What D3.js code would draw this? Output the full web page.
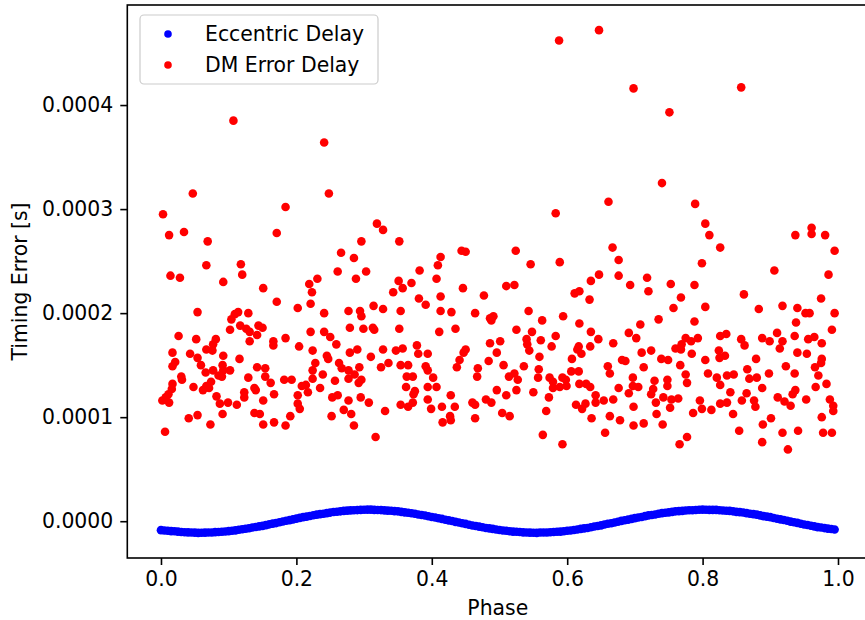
<!DOCTYPE html>
<html>
<head>
<meta charset="utf-8">
<script src="https://cdn.jsdelivr.net/npm/d3@7"></script>
<style>
  html, body { margin: 0; padding: 0; background: #fff; }
  svg { display: block; font-family: "DejaVu Sans", sans-serif; }
</style>
</head>
<body>
<svg id="chart" width="865" height="620"></svg>
<script>
// Tick positions
const phaseTicks = [0.0, 0.2, 0.4, 0.6, 0.8, 1.0];
const delayTicks = [0.0000, 0.0001, 0.0002, 0.0003, 0.0004];

// Eccentric delay: [orbital phase, delay in microseconds]
const eccentricDelay = [
  [0.000,-8.6],[0.005,-8.9],[0.010,-9.1],[0.015,-9.5],[0.020,-9.7],[0.025,-10.0],[0.030,-10.4],[0.035,-10.6],
  [0.040,-10.7],[0.045,-10.8],[0.050,-11.0],[0.055,-11.2],[0.060,-11.1],[0.065,-11.0],[0.070,-10.9],[0.075,-10.8],
  [0.080,-10.5],[0.085,-10.3],[0.090,-10.2],[0.095,-9.9],[0.100,-9.5],[0.105,-9.1],[0.110,-8.8],[0.115,-8.2],
  [0.120,-7.7],[0.125,-7.3],[0.130,-6.8],[0.135,-6.1],[0.140,-5.5],[0.145,-5.0],[0.150,-4.5],[0.155,-3.8],
  [0.160,-3.0],[0.165,-2.3],[0.170,-1.8],[0.175,-1.0],[0.180,-0.3],[0.185,0.4],[0.190,1.0],[0.195,1.8],
  [0.200,2.5],[0.205,3.2],[0.210,3.9],[0.215,4.4],[0.220,5.0],[0.225,5.7],[0.230,6.3],[0.235,6.8],
  [0.240,7.2],[0.245,7.8],[0.250,8.3],[0.255,8.8],[0.260,9.1],[0.265,9.5],[0.270,9.9],[0.275,10.2],
  [0.280,10.4],[0.285,10.6],[0.290,10.7],[0.295,10.9],[0.300,11.0],[0.305,11.1],[0.310,11.1],[0.315,10.9],
  [0.320,10.8],[0.325,10.7],[0.330,10.4],[0.335,10.2],[0.340,10.0],[0.345,9.7],[0.350,9.5],[0.355,9.0],
  [0.360,8.5],[0.365,8.2],[0.370,7.7],[0.375,7.1],[0.380,6.5],[0.385,6.0],[0.390,5.5],[0.395,4.8],
  [0.400,4.1],[0.405,3.5],[0.410,2.9],[0.415,2.2],[0.420,1.4],[0.425,0.8],[0.430,0.2],[0.435,-0.6],
  [0.440,-1.3],[0.445,-2.0],[0.450,-2.6],[0.455,-3.4],[0.460,-4.1],[0.465,-4.6],[0.470,-5.2],[0.475,-5.8],
  [0.480,-6.5],[0.485,-6.9],[0.490,-7.4],[0.495,-8.0],[0.500,-8.5],[0.505,-8.9],[0.510,-9.2],[0.515,-9.6],
  [0.520,-10.0],[0.525,-10.2],[0.530,-10.4],[0.535,-10.7],[0.540,-10.9],[0.545,-11.0],[0.550,-11.1],[0.555,-11.2],
  [0.560,-10.9],[0.565,-10.9],[0.570,-10.9],[0.575,-10.6],[0.580,-10.4],[0.585,-10.2],[0.590,-10.0],[0.595,-9.6],
  [0.600,-9.2],[0.605,-8.9],[0.610,-8.5],[0.615,-8.0],[0.620,-7.4],[0.625,-6.9],[0.630,-6.5],[0.635,-5.8],
  [0.640,-5.1],[0.645,-4.6],[0.650,-4.0],[0.655,-3.2],[0.660,-2.5],[0.665,-1.9],[0.670,-1.3],[0.675,-0.5],
  [0.680,0.3],[0.685,0.9],[0.690,1.5],[0.695,2.2],[0.700,3.0],[0.705,3.6],[0.710,4.1],[0.715,4.9],
  [0.720,5.6],[0.725,6.0],[0.730,6.5],[0.735,7.2],[0.740,7.8],[0.745,8.1],[0.750,8.5],[0.755,9.0],
  [0.760,9.5],[0.765,9.7],[0.770,9.9],[0.775,10.3],[0.780,10.6],[0.785,10.6],[0.790,10.8],[0.795,11.0],
  [0.800,11.1],[0.805,11.0],[0.810,10.9],[0.815,10.9],[0.820,10.9],[0.825,10.6],[0.830,10.3],[0.835,10.1],
  [0.840,9.9],[0.845,9.5],[0.850,9.0],[0.855,8.7],[0.860,8.4],[0.865,7.8],[0.870,7.2],[0.875,6.8],
  [0.880,6.3],[0.885,5.6],[0.890,4.9],[0.895,4.4],[0.900,3.9],[0.905,3.1],[0.910,2.3],[0.915,1.8],
  [0.920,1.2],[0.925,0.4],[0.930,-0.4],[0.935,-1.0],[0.940,-1.6],[0.945,-2.4],[0.950,-3.2],[0.955,-3.7],
  [0.960,-4.3],[0.965,-5.0],[0.970,-5.7],[0.975,-6.1],[0.980,-6.6],[0.985,-7.1],[0.990,-7.5],[0.995,-7.9]
];

// DM error delay: [orbital phase, delay in microseconds]
const dmErrorDelay = [
  [0.107,385],[0.241,364],[0.047,315],[0.248,315],[0.003,295],[0.184,302],[0.034,278],[0.012,275],[0.171,277],
  [0.319,286],[0.328,280],[0.588,462],[0.647,472],[0.583,296],[0.661,307],[0.698,416],[0.857,417],[0.751,393],
  [0.740,325],[0.789,305],[0.804,286],[0.810,275],[0.937,275],[0.961,282],[0.961,276],[0.981,275],
  [0.069,269],[0.296,269],[0.266,258],[0.285,253],[0.067,246],[0.118,247],[0.120,237],[0.014,236],[0.028,234],
  [0.092,230],[0.261,240],[0.303,240],[0.288,233],[0.219,228],[0.231,233],[0.223,220],[0.151,224],[0.171,211],
  [0.221,209],[0.202,205],[0.054,201],[0.114,201],[0.109,199],[0.104,194],[0.129,200],[0.241,200],[0.277,202],
  [0.294,202],[0.296,197],[0.314,207],[0.328,204],[0.117,188],[0.126,185],[0.131,182],[0.144,188],[0.150,186],
  [0.102,184],[0.221,182],[0.241,182],[0.279,186],[0.299,185],[0.313,186],[0.315,184],[0.026,178],[0.052,175],
  [0.081,175],[0.131,173],[0.142,179],[0.166,173],[0.166,169],[0.184,176],[0.204,168],[0.250,177],[0.259,170],
  [0.017,162],[0.043,161],[0.054,157],[0.067,165],[0.076,164],[0.077,170],[0.092,159],[0.116,156],[0.224,164],
  [0.245,159],[0.247,156],[0.279,162],[0.290,165],[0.310,158],[0.328,165],[0.325,148],[0.021,153],[0.017,149],
  [0.059,150],[0.066,143],[0.077,145],[0.091,150],[0.092,145],[0.102,145],[0.142,148],[0.154,147],[0.154,139],
  [0.228,152],[0.224,145],[0.224,137],[0.239,141],[0.263,152],[0.267,147],[0.277,145],[0.293,148],[0.286,141],
  [0.030,139],[0.031,136],[0.085,140],[0.090,139],[0.129,138],[0.162,133],[0.182,136],[0.193,136],[0.296,136],
  [0.292,133],[0.257,135],[0.277,137],[0.017,132],[0.016,127],[0.048,129],[0.062,126],[0.067,130],[0.074,134],
  [0.071,128],[0.138,128],[0.140,126],[0.208,130],[0.214,131],[0.217,124],[0.202,121],[0.235,128],[0.011,122],
  [0.007,119],[0.002,116],[0.012,114],[0.082,120],[0.087,113],[0.099,114],[0.112,112],[0.123,124],[0.123,119],
  [0.151,116],[0.167,122],[0.202,113],[0.205,108],[0.253,119],[0.261,121],[0.277,116],[0.295,119],[0.307,114],
  [0.331,106],[0.041,99],[0.054,102],[0.073,93],[0.091,103],[0.138,104],[0.146,103],[0.151,93],[0.167,95],
  [0.184,92],[0.191,101],[0.252,101],[0.270,107],[0.281,103],[0.285,92],[0.006,86],[0.317,81],
  [0.352,269],[0.444,260],[0.450,259],[0.524,260],[0.413,254],[0.409,246],[0.382,241],[0.546,247],[0.589,249],
  [0.667,263],[0.351,231],[0.370,229],[0.357,224],[0.343,220],[0.407,233],[0.446,224],[0.510,226],[0.522,227],
  [0.477,217],[0.647,237],[0.635,231],[0.611,219],[0.618,221],[0.633,213],[0.354,202],[0.381,214],[0.391,208],
  [0.413,216],[0.413,202],[0.429,201],[0.464,200],[0.486,195],[0.491,197],[0.488,193],[0.543,202],[0.563,193],
  [0.594,197],[0.618,190],[0.352,185],[0.411,182],[0.435,185],[0.525,184],[0.548,182],[0.540,175],[0.561,174],
  [0.541,170],[0.583,178],[0.577,168],[0.635,182],[0.646,175],[0.617,168],[0.634,168],[0.668,171],[0.347,164],
  [0.357,166],[0.378,169],[0.380,161],[0.394,161],[0.450,165],[0.447,162],[0.486,171],[0.501,173],[0.496,162],
  [0.544,164],[0.559,158],[0.607,156],[0.621,161],[0.615,165],[0.336,152],[0.354,150],[0.365,150],[0.391,149],
  [0.394,145],[0.441,155],[0.437,148],[0.468,147],[0.467,139],[0.484,154],[0.506,150],[0.536,149],[0.514,139],
  [0.522,142],[0.527,136],[0.558,146],[0.557,138],[0.574,138],[0.579,134],[0.593,138],[0.598,136],[0.606,144],
  [0.617,144],[0.618,132],[0.628,132],[0.634,129],[0.660,149],[0.663,142],[0.363,139],[0.372,139],[0.362,129],
  [0.375,125],[0.373,122],[0.394,129],[0.407,129],[0.402,138],[0.428,121],[0.496,126],[0.510,121],[0.525,126],
  [0.550,124],[0.573,119],[0.579,128],[0.589,129],[0.599,130],[0.642,121],[0.642,114],[0.654,116],[0.668,117],
  [0.354,112],[0.365,110],[0.372,114],[0.394,117],[0.399,108],[0.415,110],[0.434,110],[0.427,101],[0.428,97],
  [0.416,95],[0.460,114],[0.464,112],[0.464,99],[0.480,117],[0.488,114],[0.504,104],[0.515,101],[0.569,106],
  [0.613,112],[0.622,108],[0.627,113],[0.636,99],[0.663,101],[0.564,83],[0.593,74],[0.656,85],
  [0.676,251],[0.676,236],[0.693,227],[0.718,234],[0.720,221],[0.753,228],[0.788,227],[0.799,248],[0.826,263],
  [0.768,215],[0.757,205],[0.804,206],[0.735,194],[0.788,192],[0.708,189],[0.861,218],[0.883,204],[0.906,241],
  [0.918,207],[0.995,260],[0.986,237],[0.975,214],[0.995,200],[0.940,205],[0.952,200],[0.958,200],[0.938,191],
  [0.991,184],[0.691,181],[0.702,176],[0.775,176],[0.783,173],[0.793,176],[0.760,166],[0.769,170],[0.768,165],
  [0.724,164],[0.710,162],[0.681,155],[0.686,154],[0.739,156],[0.749,155],[0.784,161],[0.804,155],[0.826,178],
  [0.835,180],[0.824,164],[0.825,157],[0.833,159],[0.857,175],[0.862,169],[0.888,176],[0.899,173],[0.910,181],
  [0.918,173],[0.914,166],[0.936,178],[0.956,175],[0.965,177],[0.976,171],[0.940,162],[0.954,161],[0.976,156],
  [0.975,152],[0.713,148],[0.697,138],[0.697,130],[0.676,128],[0.705,129],[0.729,135],[0.727,127],[0.724,122],
  [0.748,136],[0.748,130],[0.767,150],[0.775,141],[0.777,133],[0.808,142],[0.821,138],[0.826,131],[0.836,140],
  [0.846,141],[0.841,124],[0.866,146],[0.869,137],[0.880,138],[0.879,156],[0.865,123],[0.888,128],[0.898,142],
  [0.923,149],[0.936,142],[0.966,148],[0.971,140],[0.983,132],[0.967,129],[0.937,126],[0.933,122],[0.691,123],
  [0.698,110],[0.731,114],[0.742,119],[0.754,117],[0.764,118],[0.752,109],[0.796,116],[0.799,108],[0.786,104],
  [0.813,107],[0.826,113],[0.836,114],[0.858,116],[0.876,116],[0.878,110],[0.911,119],[0.921,115],[0.930,111],
  [0.953,117],[0.988,117],[0.993,111],[0.993,106],[0.678,97],[0.698,92],[0.713,94],[0.732,103],[0.741,93],
  [0.845,103],[0.854,87],[0.889,93],[0.901,99],[0.918,85],[0.941,87],[0.976,100],[0.978,85],[0.991,85],
  [0.777,81],[0.766,74],[0.888,76],[0.926,69]
];

const US = 1e-6; // microseconds -> seconds

const series = [
  { name: "Eccentric Delay", color: "#0000ff", points: eccentricDelay },
  { name: "DM Error Delay",  color: "#ff0000", points: dmErrorDelay }
];

const svg = d3.select("#chart");
const box = { left: 127.3, right: 868.3, top: 5, bottom: 558 };

// Autoscale with a 5% margin on each side
const allPts = eccentricDelay.concat(dmErrorDelay);
const xExt = d3.extent(allPts, d => d[0]);
const yExt = d3.extent(allPts, d => d[1] * US);
const xPad = 0.05 * (xExt[1] - xExt[0]);
const yPad = 0.05 * (yExt[1] - yExt[0]);

const x = d3.scaleLinear().domain([xExt[0] - xPad, xExt[1] + xPad]).range([box.left, box.right]);
const y = d3.scaleLinear().domain([yExt[0] - yPad, yExt[1] + yPad]).range([box.bottom, box.top]);

const FONT = 20.4;
const INK = "#000";

// Points
series.forEach(s => {
  svg.append("g")
    .selectAll("circle")
    .data(s.points)
    .join("circle")
    .attr("cx", d => x(d[0]))
    .attr("cy", d => y(d[1] * US))
    .attr("r", 4.3)
    .attr("fill", s.color);
});

// Axes
const xAxis = svg.append("g")
  .attr("transform", `translate(0,${box.bottom})`)
  .call(d3.axisBottom(x).tickValues(phaseTicks).tickFormat(d3.format(".1f"))
    .tickSize(7).tickSizeOuter(0).tickPadding(7));
const yAxis = svg.append("g")
  .attr("transform", `translate(${box.left},0)`)
  .call(d3.axisLeft(y).tickValues(delayTicks).tickFormat(d3.format(".4f"))
    .tickSize(7).tickSizeOuter(0).tickPadding(7));

[xAxis, yAxis].forEach(g => {
  g.select(".domain").remove();
  g.selectAll(".tick line").attr("stroke", INK).attr("stroke-width", 1.6);
  g.selectAll(".tick text")
    .attr("fill", INK)
    .style("font-size", FONT + "px")
    .style("font-family", "DejaVu Sans, sans-serif");
});

// Frame
svg.append("rect")
  .attr("x", box.left).attr("y", box.top)
  .attr("width", box.right - box.left).attr("height", box.bottom - box.top)
  .attr("fill", "none").attr("stroke", INK).attr("stroke-width", 1.6);

// Axis labels
svg.append("text")
  .attr("x", (box.left + box.right) / 2).attr("y", 615)
  .attr("text-anchor", "middle")
  .style("font-size", FONT + "px").attr("fill", INK)
  .text("Phase");

svg.append("text")
  .attr("transform", `translate(26.5,${(box.top + box.bottom) / 2}) rotate(-90)`)
  .attr("text-anchor", "middle")
  .style("font-size", FONT + "px").attr("fill", INK)
  .text("Timing Error [s]");

// Legend
const legend = svg.append("g");
legend.append("rect")
  .attr("x", 140).attr("y", 15).attr("width", 238).attr("height", 69)
  .attr("rx", 4).attr("ry", 4)
  .attr("fill", "#fff").attr("fill-opacity", 0.8)
  .attr("stroke", "#cccccc").attr("stroke-width", 1.2);

series.forEach((s, i) => {
  const cy = 34 + i * 31;
  legend.append("circle").attr("cx", 168).attr("cy", cy).attr("r", 3.8).attr("fill", s.color);
  legend.append("text")
    .attr("x", 205).attr("y", cy).attr("dy", "0.36em")
    .style("font-size", FONT + "px").attr("fill", INK)
    .text(s.name);
});
</script>
</body>
</html>
